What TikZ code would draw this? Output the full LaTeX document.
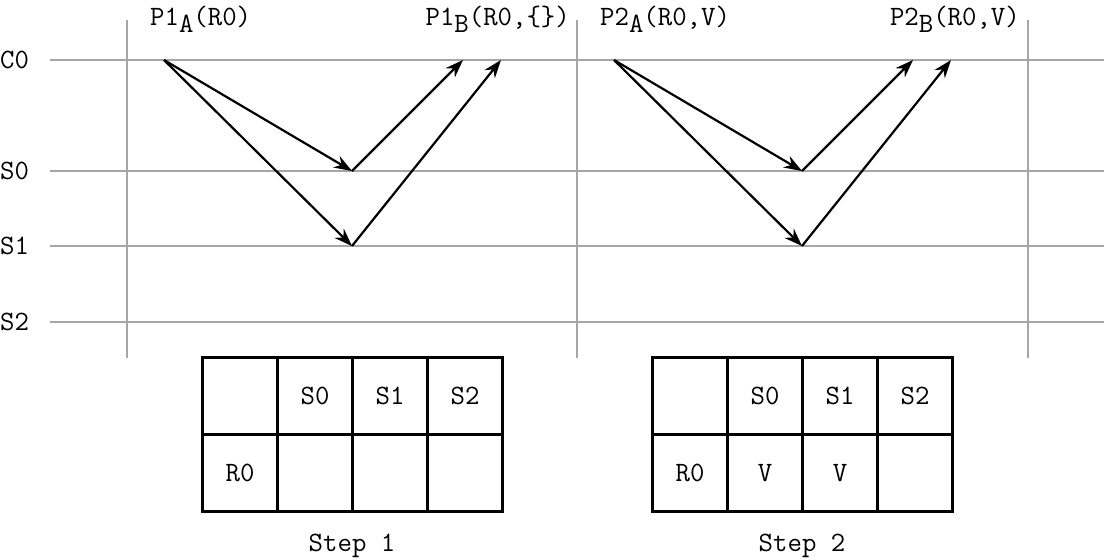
\documentclass[tikz,border=0pt]{standalone}
\usetikzlibrary{arrows.meta}
\newcommand{\lsub}[1]{\raisebox{-7pt}{#1}}
\begin{document}
\begin{tikzpicture}[x=1pt,y=-1pt,
 grid/.style={gray!70,line width=2.4pt},
 arr/.style={-{Stealth[length=18pt,width=13pt]},line width=2.2pt},
 lab/.style={font=\fontsize{28}{32}\selectfont\ttfamily,inner sep=0},
 cell/.style={draw,line width=2.2pt,minimum width=75pt,minimum height=77pt}]
\useasboundingbox (0,0) rectangle (1104,560);
\foreach \n/\y in {C0/60,S0/171,S1/246,S2/322}{
 \draw[grid] (50,\y) -- (1104,\y);
 \node[lab,anchor=west] at (0,\y) {\n};}
\foreach \x in {127,577,1028} \draw[grid] (\x,20) -- (\x,358);
\foreach \o/\a/\b/\st in {0/{P1\lsub{A}(R0)}/{P1\lsub{B}(R0,\{\})}/1,450/{P2\lsub{A}(R0,V)}/{P2\lsub{B}(R0,V)}/2}{
 \begin{scope}[xshift=\o]
 \coordinate (s) at (164,60);
 \coordinate (m) at (352,171);
 \coordinate (n) at (352,246);
 \coordinate (e1) at (463,60);
 \coordinate (e2) at (501,60);
 \draw[arr] (s) -- (m); \draw[arr] (s) -- (n);
 \draw[arr] (m) -- (e1); \draw[arr] (n) -- (e2);
 \node[lab,anchor=base west] at (150,25) {\a};
 \node[lab,anchor=base east] at (570,25) {\b};
 \foreach \c/\x in {1/240,2/315,3/390,4/465}{
  \node[cell] (h\c) at (\x,396) {};
  \node[cell] (r\c) at (\x,473) {};}
 \node[lab] at (315,396) {S0};
 \node[lab] at (390,396) {S1};
 \node[lab] at (465,396) {S2};
 \node[lab] at (240,473) {R0};
 \node[lab] at (352,546) {Step \st};
 \end{scope}}
\node[lab] at (765,473) {V};
\node[lab] at (840,473) {V};
\end{tikzpicture}
\end{document}
